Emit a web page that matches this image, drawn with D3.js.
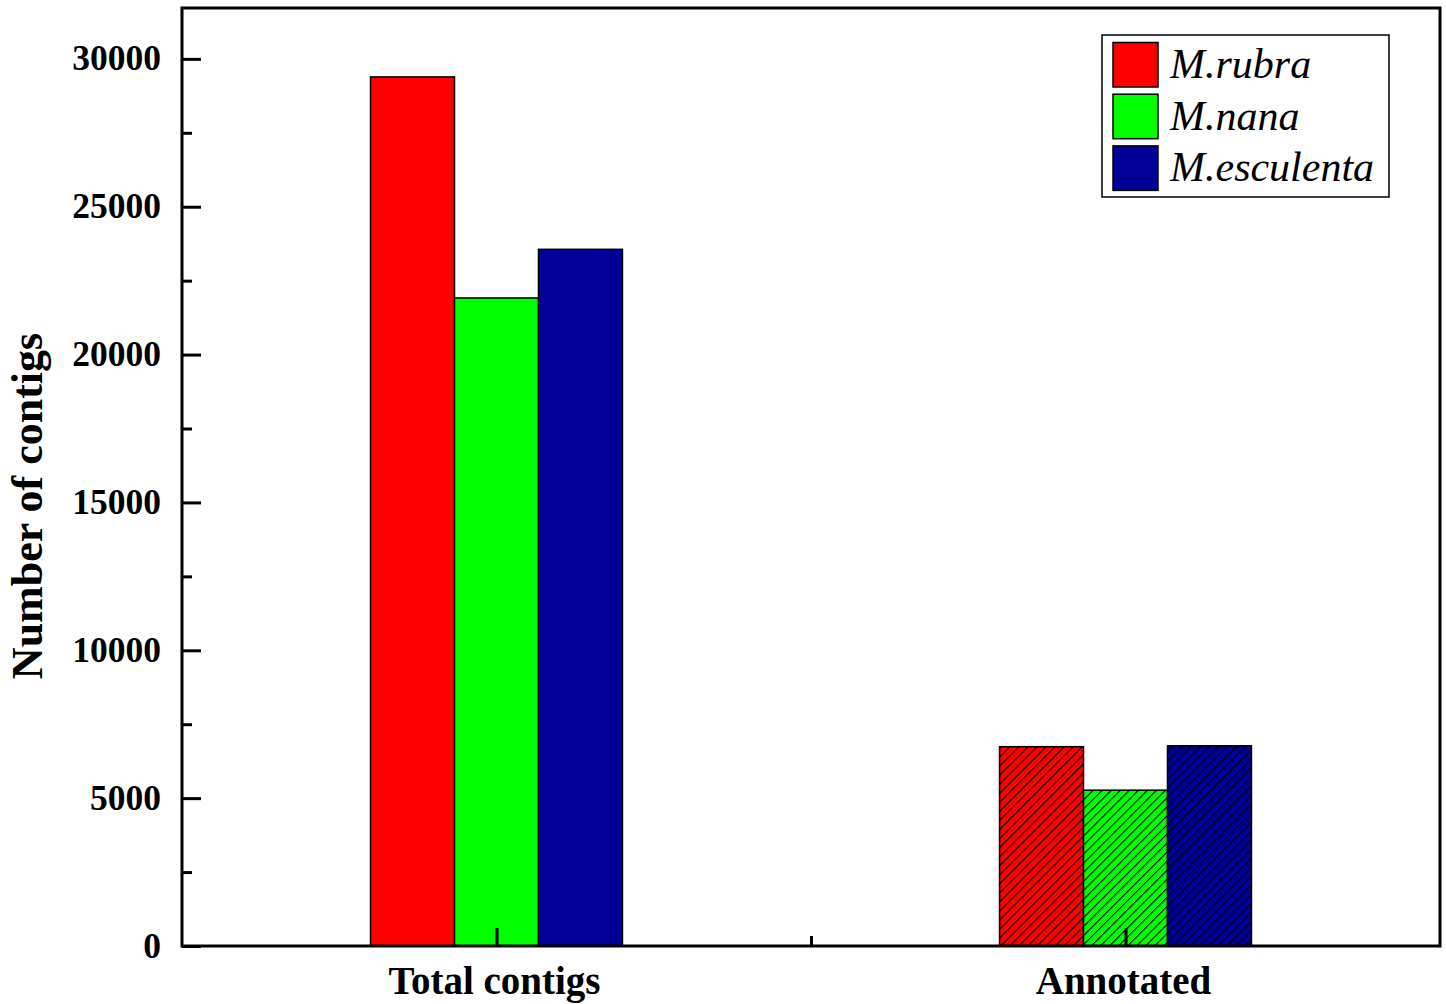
<!DOCTYPE html>
<html>
<head>
<meta charset="utf-8">
<script src="https://cdn.jsdelivr.net/npm/d3@7"></script>
<style>
  body { margin: 0; background: #fff; }
  text { font-family: "Liberation Serif", "Times New Roman", serif; }
</style>
</head>
<body>
<div id="chart"></div>
<script>
// data
var categories = ["Total contigs", "Annotated"];
var species = ["M.rubra", "M.nana", "M.esculenta"];
var rubra = [29390, 6740];
var nana = [21915, 5270];
var esculenta = [23560, 6770];
var colors = ["#ff0000", "#00ff00", "#000099"];
var yTicks = [0, 5000, 10000, 15000, 20000, 25000, 30000];

var series = [rubra, nana, esculenta];

var width = 1446,
    height = 1004;
var mLeft = 182, mRight = 1440, mTop = 8, mBottom = 946;

var svg = d3.select("#chart").append("svg")
    .attr("width", width)
    .attr("height", height);

// hatch patterns for the annotated group
var defs = svg.append("defs");
colors.forEach(function(c, i) {
    var p = defs.append("pattern")
        .attr("id", "hatch" + i)
        .attr("patternUnits", "userSpaceOnUse")
        .attr("width", 6.4)
        .attr("height", 6.4)
        .attr("patternTransform", "rotate(45)");
    p.append("rect").attr("width", 6.4).attr("height", 6.4).attr("fill", c);
    p.append("line")
        .attr("x1", 0).attr("y1", 0).attr("x2", 0).attr("y2", 6.4)
        .attr("stroke", "#000").attr("stroke-width", 2.2);
});

// scales
var x = d3.scaleLinear().domain([0.5, 2.5]).range([mLeft, mRight]);
var y = d3.scaleLinear().domain([0, 31720]).range([mBottom, mTop]);
var bw = 0.1335;

// bars
series.forEach(function(vals, j) {
    svg.append("g").selectAll("rect")
        .data(vals)
        .enter().append("rect")
        .attr("x", function(d, i) { return x(i + 1 + (j - 1.5) * bw); })
        .attr("width", x(bw) - x(0))
        .attr("y", function(d) { return y(d); })
        .attr("height", function(d) { return y(0) - y(d); })
        .attr("fill", function(d, i) { return i == 0 ? colors[j] : "url(#hatch" + j + ")"; })
        .attr("stroke", "#000")
        .attr("stroke-width", 1.5);
});

// axes
var yAxis = svg.append("g")
    .attr("transform", "translate(" + mLeft + ",0)")
    .call(d3.axisRight(y).tickValues(d3.range(0, 31000, 2500)).tickSize(18).tickFormat(""));
yAxis.selectAll(".tick line")
    .attr("stroke-width", 3)
    .attr("x2", function(d) { return d % 5000 == 0 ? 19 : 10; });
yAxis.select(".domain").remove();

svg.append("g").selectAll("text")
    .data(yTicks)
    .enter().append("text")
    .attr("x", mLeft - 21)
    .attr("y", function(d) { return y(d) + 11.5; })
    .attr("text-anchor", "end")
    .attr("font-size", 35.5)
    .attr("font-weight", "bold")
    .text(function(d) { return d; });

var xAxis = svg.append("g")
    .attr("transform", "translate(0," + mBottom + ")")
    .call(d3.axisTop(x).tickValues([1, 1.5, 2]).tickFormat(""));
xAxis.selectAll(".tick line")
    .attr("stroke-width", 3)
    .attr("y2", function(d) { return d % 1 == 0 ? -18 : -10; });
xAxis.select(".domain").remove();

svg.append("g").selectAll("text")
    .data(categories)
    .enter().append("text")
    .attr("x", function(d, i) { return x(i + 1) - 2; })
    .attr("y", 994)
    .attr("text-anchor", "middle")
    .attr("font-size", 39)
    .attr("font-weight", "bold")
    .text(function(d) { return d; });

// frame
svg.append("rect")
    .attr("x", mLeft).attr("y", mTop)
    .attr("width", mRight - mLeft).attr("height", mBottom - mTop)
    .attr("fill", "none").attr("stroke", "#000").attr("stroke-width", 3);

svg.append("text")
    .attr("transform", "translate(42,506) rotate(-90)")
    .attr("text-anchor", "middle")
    .attr("font-size", 44)
    .attr("font-weight", "bold")
    .text("Number of contigs");

// legend
var lg = svg.append("g").attr("transform", "translate(1102,35)");
lg.append("rect")
    .attr("width", 287).attr("height", 162)
    .attr("fill", "#fff").attr("stroke", "#000").attr("stroke-width", 1.5);
species.forEach(function(s, i) {
    lg.append("rect")
        .attr("x", 11).attr("y", 7.5 + i * 51.7)
        .attr("width", 45).attr("height", 44.5)
        .attr("fill", colors[i]).attr("stroke", "#000").attr("stroke-width", 1.5);
    lg.append("text")
        .attr("x", 68).attr("y", 43 + i * 51.7)
        .attr("font-size", 42)
        .attr("font-style", "italic")
        .text(s);
});
</script>
</body>
</html>
